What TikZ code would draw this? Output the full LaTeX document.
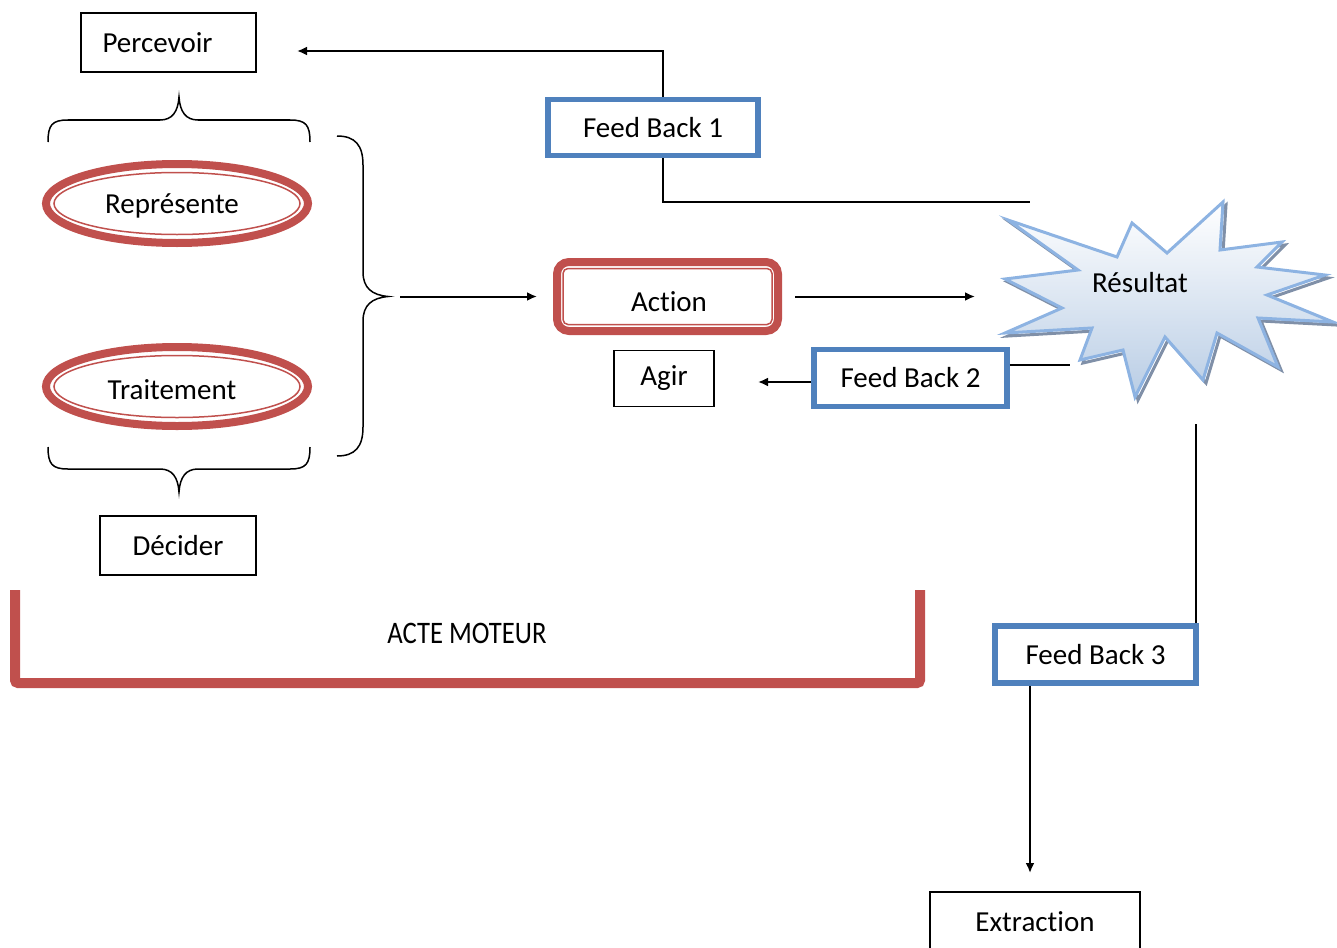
\documentclass[tikz,border=0pt]{standalone}
\usepackage{fontspec}
\setmainfont{Carlito}[Ligatures=NoCommon]
\usetikzlibrary{arrows.meta,shapes.geometric,calc}
\definecolor{accred}{HTML}{C0504D}
\definecolor{accblue}{HTML}{4F81BD}
\definecolor{starline}{HTML}{8DB3E2}
\definecolor{starfill}{HTML}{B9CDE5}
\definecolor{starshadow}{HTML}{8090A8}
\begin{document}
\begin{tikzpicture}[x=1pt,y=-1pt,font=\fontsize{29pt}{34pt}\selectfont,
  ln/.style={line width=2pt},
  arr/.style={line width=2pt,-{Latex[length=10pt,width=9pt]}},
  box/.style={draw,line width=1.5pt,inner sep=0pt},
  fbbox/.style={draw=accblue,line width=5.5pt,inner sep=0pt},
  dblell/.style={ellipse,draw=accred,line width=8pt,inner sep=0pt,minimum width=262pt,minimum height=79pt},
  innerell/.style={accred,line width=1.5pt},
  bracestyle/.style={line width=1.5pt}]
\useasboundingbox (0,0) rectangle (1337,947);

% boxes
\node[box,minimum width=175pt,minimum height=59pt] (perc) at (168.5,42.5) {Percevoir\hspace*{22pt}};
\node[fbbox,minimum width=210pt,minimum height=56pt] (fb1) at (653,127.5) {Feed Back 1};
\node[fbbox,minimum width=193pt,minimum height=57pt] (fb2) at (910.5,378) {Feed Back 2};
\node[fbbox,minimum width=201pt,minimum height=57pt] (fb3) at (1095.5,654.5) {Feed Back 3};
\node[box,minimum width=100pt,minimum height=56pt] (agir) at (664,378.5) {Agir};
\node[box,minimum width=156pt,minimum height=59pt] (dec) at (178,545.5) {Décider};
\node[box,minimum width=210pt,minimum height=59pt] (ext) at (1035,921.5) {Extraction};

% ellipses
\node[dblell] (rep) at (177,203.5) {};
\draw[innerell] (rep.center) ellipse [x radius=123pt, y radius=31pt];
\node at (172,206) {Représente};
\node[dblell] (trt) at (177,386.5) {};
\draw[innerell] (trt.center) ellipse [x radius=123pt, y radius=31pt];
\node at (172,390) {Traitement};

% action
\node[draw=accred,line width=8pt,rounded corners=12pt,minimum width=221pt,minimum height=69pt,inner sep=0pt] (act) at (667.5,296.5) {};
\draw[accred,line width=1.5pt,rounded corners=5pt] ($(act.center)+(-104.5,-28)$) rectangle ($(act.center)+(104.5,28)$);
\node at (669,302) {Action};

% starburst
\shade[top color=white,bottom color=starfill,draw=starline,line width=3pt,line join=miter,
  preaction={draw=starshadow,line width=3pt,transform canvas={shift={(3pt,-3pt)}}}]
  (1008,220) -- (1117,257) -- (1132,223) -- (1167,253) -- (1223,202) -- (1220,250)
  -- (1282,242) -- (1257,267) -- (1325,275) -- (1267,295) -- (1333,322) -- (1258,318)
  -- (1278,367) -- (1217,333) -- (1203,380) -- (1165,337) -- (1135,397) -- (1123,350)
  -- (1080,360) -- (1092,328) -- (1005,333) -- (1062,308) -- (1005,279) -- (1078,270) -- cycle;
\node (res) at (1140,283) {Résultat};

% braces
\draw[bracestyle] (48,142) .. controls (48,125) and (52,120) .. (68,120) -- (160,120)
  .. controls (172,120) and (178,112) .. (179,97) .. controls (180,112) and (186,120) .. (198,120)
  -- (290,120) .. controls (306,120) and (310,125) .. (310,142);
\draw[bracestyle] (48,447) .. controls (48,464) and (52,469) .. (68,469) -- (160,469)
  .. controls (172,469) and (178,477) .. (179,492) .. controls (180,477) and (186,469) .. (198,469)
  -- (290,469) .. controls (306,469) and (310,464) .. (310,447);
\coordinate (bt) at (388,296.5);
\draw[bracestyle] (337,136) .. controls (355,136) and (363,145) .. (363,165) -- (363,272)
  .. controls (363,288) and (372,295) .. (bt) .. controls (372,298) and (363,305) .. (363,321)
  -- (363,427) .. controls (363,447) and (355,456) .. (337,456);

% coordinates for free ends
\coordinate (percarr) at (297,51);
\coordinate (fb1end) at (1030,202);
\coordinate (starin) at (975,296.5);
\coordinate (fb2end) at (1070,365);
\coordinate (agirarr) at (758,382);
\coordinate (resdown) at (1196,424);
\coordinate (extarr) at (1030,873);

% connectors
\draw[arr] ([xshift=10pt]fb1.north) |- (percarr);
\draw[ln] ([xshift=10pt]fb1.south) |- (fb1end);
\draw[arr] ([xshift=12pt]bt) -- ([xshift=-16pt]act.west);
\draw[arr] ([xshift=13pt]act.east) -- (starin);
\draw[ln] (fb2.east |- fb2end) -- (fb2end);
\draw[arr] (fb2.west |- agirarr) -- (agirarr);
\draw[ln] (resdown) -- (resdown |- fb3.north);
\draw[arr] (fb3.south -| extarr) -- (extarr);

% acte moteur
\draw[accred,line width=10pt,rounded corners=3pt] (15,590) -- (15,683) -- (920,683) -- (920,590);
\node (acte) at (467,633) {\scalebox{0.92}[1.08]{ACTE MOTEUR}};
\end{tikzpicture}
\end{document}
